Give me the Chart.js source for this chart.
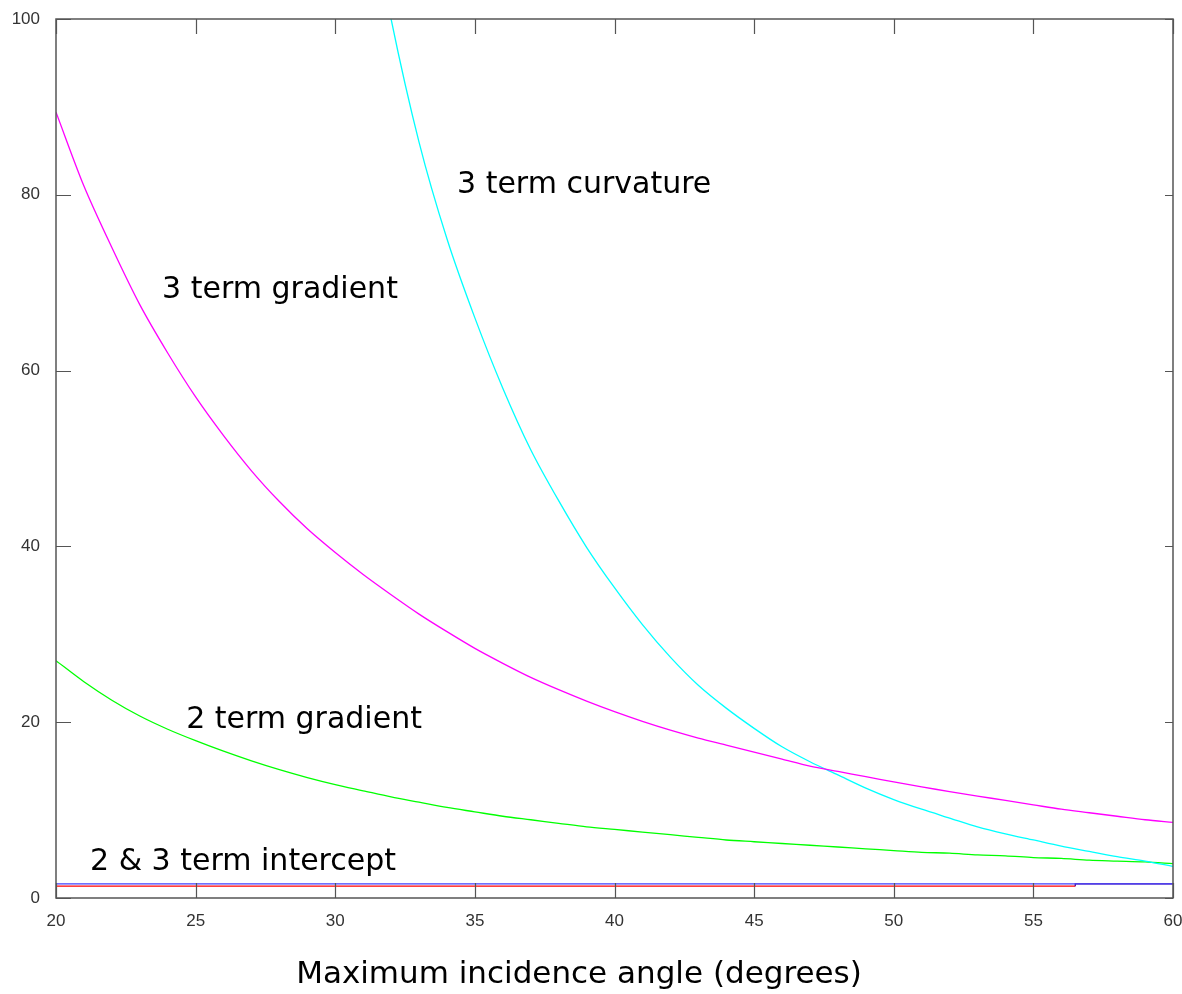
<!DOCTYPE html>
<html>
<head>
<meta charset="utf-8">
<script src="https://cdn.jsdelivr.net/npm/chart.js@4/dist/chart.umd.min.js"></script>
<style>
  html, body { margin: 0; padding: 0; background: #fff; }
  canvas { display: block; }
</style>
</head>
<body>
<canvas id="angleChart" width="1182" height="994"></canvas>
<script>
// incidence angle (degrees)
const angles = [20, 21, 22, 23, 24, 25, 26, 27, 28, 29, 30, 31, 32, 33, 34, 35, 36, 37, 38, 39, 40,
    41, 42, 43, 44, 45, 46, 47, 48, 49, 50, 51, 52, 53, 54, 55, 56, 57, 58, 59, 60];

const gradient3 = [89.4, 81, 74, 67.5, 62, 57, 52.6, 48.6, 45.1, 42, 39.3, 36.8, 34.5, 32.3, 30.3, 28.4,
    26.7, 25.1, 23.7, 22.4, 21.2, 20.1, 19.1, 18.2, 17.4, 16.6, 15.8, 15.0, 14.4, 13.8, 13.2,
    12.65, 12.1, 11.6, 11.1, 10.6, 10.1, 9.7, 9.3, 8.9, 8.6];

const gradient2 = [27, 24.6, 22.5, 20.7, 19.2, 17.9, 16.7, 15.6, 14.6, 13.7, 12.9, 12.2, 11.5, 10.9,
    10.3, 9.8, 9.3, 8.9, 8.5, 8.1, 7.8, 7.5, 7.2, 6.9, 6.6, 6.4, 6.2, 6.0, 5.8, 5.6, 5.4,
    5.2, 5.1, 4.9, 4.8, 4.6, 4.5, 4.3, 4.2, 4.1, 3.9];

// curvature only from 31 deg (goes off the top)
const curvAngles = [31, 32, 33, 34, 35, 36, 37, 38, 39, 40, 41, 42, 43, 44, 45, 46, 47, 48, 49, 50,
    51, 52, 53, 54, 55, 56, 57, 58, 59, 60];
const curvature3 = [117, 100, 86, 75, 66, 58, 51, 45.2, 39.9, 35.3, 31.1, 27.4, 24.2, 21.6, 19.3, 17.2, 15.5,
    14, 12.5, 11.2, 10.1, 9.1, 8.1, 7.3, 6.6, 5.9, 5.3, 4.7, 4.2, 3.6];

const intercept3 = [1.6, 1.6];
const interceptAngles3 = [20, 60];
const interceptAngles2 = [20, 56.5, 56.5, 60];
const intercept2 = [1.35, 1.35, 1.6, 1.6];

const xTicks = [20, 25, 30, 35, 40, 45, 50, 55, 60];
const yTicks = [0, 20, 40, 60, 80, 100];

const xTitle = 'Maximum incidence angle (degrees)';

const labels = [
    { text: '3 term curvature', x: 34.36, y: 81.1 },
    { text: '3 term gradient', x: 23.8, y: 69.2 },
    { text: '2 term gradient', x: 24.66, y: 20.25 },
    { text: '2 & 3 term intercept', x: 21.22, y: 4.1 }
];

function pts(xs, ys) {
    return xs.map((x, i) => ({ x: x, y: ys[i] }));
}

const frame = {
    id: 'frame',
    afterDraw(chart) {
        const ctx = chart.ctx;
        const a = chart.chartArea;
        const xs = chart.scales.x, ys = chart.scales.y;
        ctx.save();
        ctx.strokeStyle = '#555';
        ctx.lineWidth = 1.5;
        ctx.strokeRect(a.left, a.top, a.right - a.left, a.bottom - a.top);
        ctx.lineWidth = 1.2;
        ctx.beginPath();
        xTicks.forEach(v => {
            const p = Math.round(xs.getPixelForValue(v)) + 0.5;
            ctx.moveTo(p, a.bottom); ctx.lineTo(p, a.bottom - 15);
            ctx.moveTo(p, a.top); ctx.lineTo(p, a.top + 15);
        });
        yTicks.forEach(v => {
            const p = Math.round(ys.getPixelForValue(v)) + 0.5;
            ctx.moveTo(a.left, p); ctx.lineTo(a.left + 15, p);
            ctx.moveTo(a.right, p); ctx.lineTo(a.right - 8, p);
        });
        ctx.stroke();

        ctx.fillStyle = '#000';
        ctx.font = '30px "DejaVu Sans"';
        ctx.textBaseline = 'middle';
        ctx.textAlign = 'left';
        labels.forEach(l => {
            ctx.fillText(l.text, xs.getPixelForValue(l.x), ys.getPixelForValue(l.y));
        });

        // axis title, sits a bit left of the plot centre in the original
        ctx.font = '31px "DejaVu Sans"';
        ctx.textAlign = 'center';
        ctx.fillText(xTitle, 579, 975);
        ctx.restore();
    }
};

const lineDefaults = { borderWidth: 1.3, pointRadius: 0, tension: 0.3, fill: false };

new Chart(document.getElementById('angleChart'), {
    type: 'line',
    data: {
        datasets: [
            Object.assign({ data: pts(angles, gradient3), borderColor: '#ff00ff' }, lineDefaults),
            Object.assign({ data: pts(curvAngles, curvature3), borderColor: '#00ffff' }, lineDefaults),
            Object.assign({ data: pts(angles, gradient2), borderColor: '#00ff00' }, lineDefaults),
            Object.assign({}, lineDefaults, { data: pts(interceptAngles3, intercept3), borderColor: '#4040ff', tension: 0 }),
            Object.assign({}, lineDefaults, {
                data: pts(interceptAngles2, intercept2), borderColor: '#ff0000', tension: 0,
                segment: { borderColor: c => c.p0.parsed.x >= 56.5 ? '#500090' : undefined }
            })
        ]
    },
    options: {
        responsive: false,
        animation: false,
        layout: { padding: { top: 19, right: 9, left: 0, bottom: 0 } },
        plugins: { legend: { display: false }, tooltip: { enabled: false } },
        scales: {
            x: {
                type: 'linear',
                min: 20, max: 60,
                afterFit(s) { s.height = 96; s.paddingLeft = 0; s.paddingRight = 0; },
                afterBuildTicks(s) { s.ticks = xTicks.map(v => ({ value: v })); },
                grid: { display: false, drawTicks: false },
                border: { display: false },
                ticks: { padding: 13, color: '#333', font: { family: '"Liberation Sans"', size: 17 } }
            },
            y: {
                min: 0, max: 100,
                afterFit(s) { s.width = 56; s.paddingTop = 0; s.paddingBottom = 0; },
                afterBuildTicks(s) { s.ticks = yTicks.map(v => ({ value: v })); },
                grid: { display: false, drawTicks: false },
                border: { display: false },
                ticks: { padding: 16, color: '#333', font: { family: '"Liberation Sans"', size: 17 } }
            }
        }
    },
    plugins: [frame]
});
</script>
</body>
</html>
